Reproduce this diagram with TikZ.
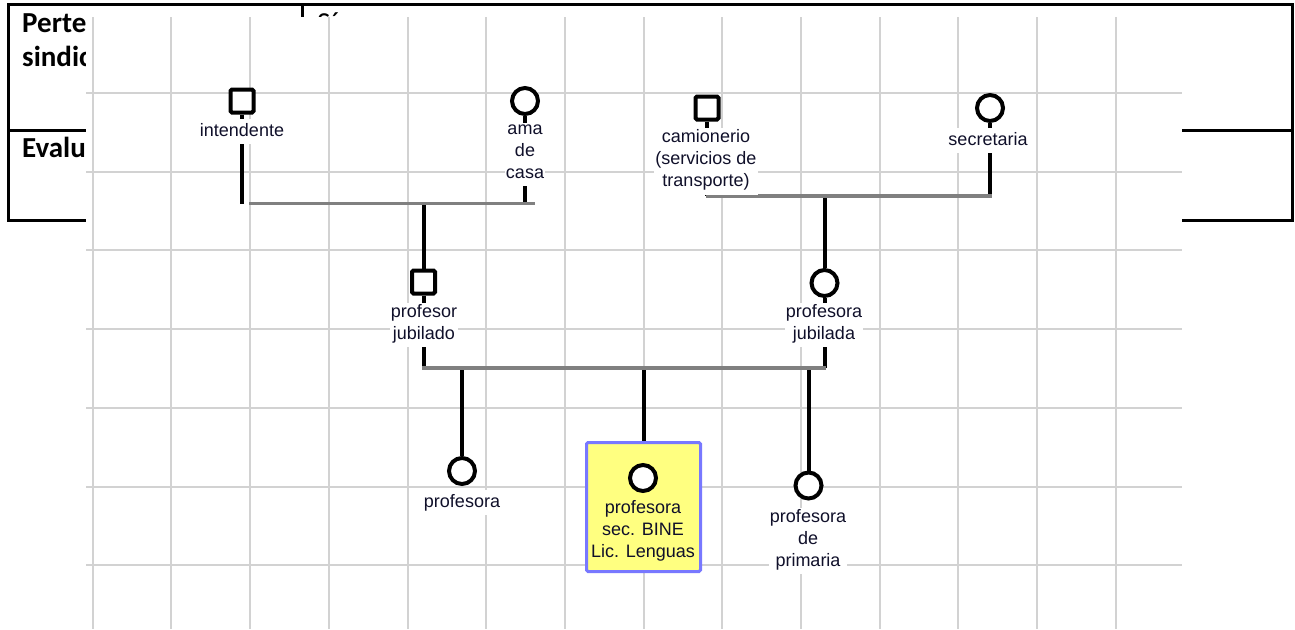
\documentclass[tikz,border=0pt]{standalone}
\usepackage{fontspec}
\setmainfont{Liberation Sans}
\newfontfamily\calibri{Carlito}
\definecolor{gridgray}{HTML}{D2D2D2}
\definecolor{couplegray}{HTML}{808080}
\definecolor{egofill}{HTML}{FFFF80}
\definecolor{egoline}{HTML}{7878FF}
\definecolor{labeltext}{HTML}{10102A}
\pgfdeclarelayer{back}
\pgfdeclarelayer{lines}
\pgfsetlayers{back,lines,main}
\begin{document}
\begin{tikzpicture}[x=1pt,y=-1pt,
  tbl/.style={line width=3pt,line cap=rect},
  gridline/.style={draw=gridgray,line width=2pt},
  male/.style={rectangle,draw=black,fill=white,line width=4pt,minimum size=23pt,inner sep=0pt,rounded corners=1.5pt},
  female/.style={circle,draw=black,fill=white,line width=4pt,minimum size=26pt,inner sep=0pt},
  egobox/.style={rectangle,draw=egoline,fill=egofill,line width=3pt,minimum width=114pt,minimum height=129pt,rounded corners=1.5pt,inner sep=0pt},
  lbl/.style={fill=white,text=labeltext,inner xsep=1pt,inner ysep=1.5pt,align=center,font=\fontsize{18}{22}\selectfont,execute at begin node=\strut,execute at end node=\strut},
  link/.style={line width=4pt,draw=black},
  couple/.style={line width=3.5pt,draw=couplegray},
  tabtext/.style={font=\calibri\fontsize{29}{34}\selectfont,anchor=base west,inner sep=0pt},
  tabbold/.style={tabtext,font=\calibri\bfseries\fontsize{29}{34}\selectfont}
]
\useasboundingbox (0,0) rectangle (1295,629);

% symbols
\node[male] (int) at (242,101) {};
\node[female] (ama) at (525,101) {};
\node[male] (cam) at (707,108) {};
\node[female] (sec) at (990,108) {};
\node[male] (pj) at (423.5,282) {};
\node[female] (pja) at (824.5,283) {};
\node[female] (p1) at (462,471) {};
\node[egobox] (ego) at (643.5,507) {};
\node[female] (egoc) at (643,478) {};
\node[female] (p3) at (808.5,485.5) {};

% labels
\node[lbl] (int-l) at (242,131.6) {intendente};
\node[lbl] (ama-l) at (525,154.6) {ama\\de\\casa};
\node[lbl] (cam-l) at (706,161.6) {camionerio\\(servicios de\\transporte)};
\node[lbl] (sec-l) at (988,140.6) {secretaria};
\node[lbl] (pj-l) at (424,325) {profesor\\jubilado};
\node[lbl] (pja-l) at (824,325) {profesora\\jubilada};
\node[lbl] (p1-l) at (462,502.6) {profesora};
\node[lbl,fill=none] (ego-l) at (643,532.6) {profesora\\sec. BINE\\Lic. Lenguas};
\node[lbl] (p3-l) at (808,541) {profesora\\de\\primaria};

% couple line ends
\coordinate (L1) at (249,203.5);
\coordinate (L2) at (535,203.5);
\coordinate (R1) at (706,195.8);
\coordinate (R2) at (992,195.8);
\coordinate (B1) at (422,368);
\coordinate (B2) at (826,368);

\begin{pgfonlayer}{back}
  \fill[white] (0,0) rectangle (1295,629);
  \draw[tbl] (8,4) -- (1292,4) -- (1292,220) -- (8,220) -- cycle;
  \draw[tbl] (8,130) -- (1292,130);
  \draw[tbl] (302,4) -- (302,130);
  \node[tabbold] (t1) at (22,32) {Perte};
  \node[tabbold] (t2) at (22,66) {sindic};
  \node[tabbold] (t3) at (22,157) {Evalu};
  \node[tabtext] (t4) at (317,32) {Sí};
  \fill[white] (86,17) rectangle (1182,629);
  \foreach \i in {0,...,13}
    \draw[gridline] ({92.7+78.7*\i},17) -- ({92.7+78.7*\i},629);
  \foreach \j in {0,...,6}
    \draw[gridline] (86,{93+78.7*\j}) -- (1182,{93+78.7*\j});
\end{pgfonlayer}

\begin{pgfonlayer}{lines}
  \draw[link] (int.south) -- (int.south |- L1);
  \draw[link] (ama.south) -- (ama.south |- L2);
  \draw[link] (cam.south) -- (cam.south |- R1);
  \draw[link] (sec.south) -- (sec.south |- R2);
  \draw[link] (pj.north |- L1) -- (pj.north);
  \draw[link] (pja.north |- R1) -- (pja.north);
  \draw[link] (pj.south) -- (pj.south |- B1);
  \draw[link] (pja.south) -- (pja.south |- B2);
  \draw[link] (p1.north |- B1) -- (p1.north);
  \draw[link] (ego.north |- B1) -- (ego.north);
  \draw[link] (p3.north |- B1) -- (p3.north);
  \draw[couple] (L1) -- (L2);
  \draw[couple] (R1) -- (R2);
  \draw[couple] (B1) -- (B2);
\end{pgfonlayer}
\end{tikzpicture}
\end{document}
